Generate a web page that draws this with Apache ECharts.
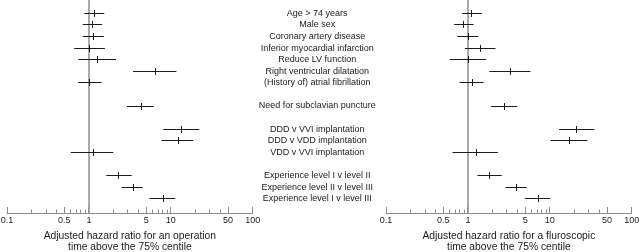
<!DOCTYPE html>
<html>
<head>
<meta charset="utf-8">
<script src="https://cdn.jsdelivr.net/npm/echarts@6/dist/echarts.min.js"></script>
<style>
html,body{margin:0;padding:0;background:#fff;}
#chart{width:640px;height:252px;}
</style>
</head>
<body>
<div id="chart"></div>
<script>
// ---- Data ----
const rowLabels = [
  'Age > 74 years',
  'Male sex',
  'Coronary artery disease',
  'Inferior myocardial infarction',
  'Reduce LV function',
  'Right ventricular dilatation',
  '(History of) atrial fibrillation',
  '',
  'Need for subclavian puncture',
  '',
  'DDD v VVI implantation',
  'DDD v VDD implantation',
  'VDD v VVI implantation',
  '',
  'Experience level I v level II',
  'Experience level II v level III',
  'Experience level I v level III'
];

// Operation time above 75% centile
const opPoint = [1.16, 1.10, 1.14, 1.01, 1.27, 6.5, 1.02, null, 4.33, null, 13.7, 12.3, 1.13, null, 2.33, 3.48, 8.1];
const opLow   = [0.88, 0.84, 0.84, 0.66, 0.74, 3.46, 0.74, null, 2.92, null, 8.1, 7.7, 0.60, null, 1.63, 2.51, 5.46];
const opHigh  = [1.54, 1.45, 1.52, 1.57, 2.14, 11.7, 1.43, null, 6.18, null, 22.3, 18.8, 1.99, null, 3.33, 4.54, 11.35];

// Fluoroscopic time above 75% centile
const fluPoint = [1.12, 0.89, 1.01, 1.42, 1.01, 3.30, 1.13, null, 2.82, null, 21.4, 17.4, 1.28, null, 1.83, 3.91, 7.2];
const fluLow   = [0.85, 0.68, 0.74, 0.92, 0.60, 1.83, 0.79, null, 1.92, null, 13.0, 10.2, 0.65, null, 1.31, 2.87, 4.95];
const fluHigh  = [1.48, 1.17, 1.34, 2.17, 1.67, 5.8, 1.55, null, 4.02, null, 35.0, 28.8, 2.32, null, 2.59, 5.24, 10.1];

const referenceValue = [1];

const majorTicks = [0.1, 0.5, 1, 5, 10, 50, 100];
const majorTickLabels = ['0.1', '0.5', '1', '5', '10', '50', '100'];
const minorTicks = [0.2, 0.3, 0.4, 0.6, 0.7, 0.8, 0.9, 2, 3, 4, 6, 7, 8, 9, 20, 30, 40];

const leftTitle = 'Adjusted hazard ratio for an operation\ntime above the 75% centile';
const rightTitle = 'Adjusted hazard ratio for a fluroscopic\ntime above the 75% centile';

// ---- Build ----
const Y_MIN = -1.15, Y_MAX = 17.26;
const FONT = '"Liberation Sans", Arial, sans-serif';
const AXIS_GRAY = '#8c8c8c';
const INK = '#1a1a1a';

function crisp(v){ return Math.round(v - 0.5) + 0.5; }

function barData(pt, lo, hi){
  const d = [];
  for (let i = 0; i < pt.length; i++) {
    if (pt[i] != null) d.push([i, lo[i], pt[i], hi[i]]);
  }
  return d;
}

function refLineSeries(idx){
  return {
    type: 'custom', xAxisIndex: idx, yAxisIndex: idx, clip: false, silent: true,
    data: referenceValue.map(v => [v]),
    renderItem: function(params, api){
      const top = api.coord([api.value(0), Y_MIN]);
      const bot = api.coord([api.value(0), Y_MAX]);
      const x = Math.round(top[0]);
      return { type: 'line', shape: { x1: x, y1: top[1], x2: x, y2: bot[1] },
        style: { stroke: '#aaaaaa', lineWidth: 2 } };
    },
    z: 1
  };
}

function errorSeries(idx, data){
  return {
    type: 'custom', xAxisIndex: idx, yAxisIndex: idx, clip: false, silent: true,
    data: data,
    renderItem: function(params, api){
      const row = api.value(0);
      const a = api.coord([api.value(1), row]);
      const b = api.coord([api.value(3), row]);
      const c = api.coord([api.value(2), row]);
      const y = crisp(c[1]);
      const cx = crisp(c[0]);
      return { type: 'group', children: [
        { type: 'line', shape: { x1: a[0], y1: y, x2: b[0], y2: y }, style: { stroke: INK, lineWidth: 1 } },
        { type: 'line', shape: { x1: cx, y1: y - 3.5, x2: cx, y2: y + 3.5 }, style: { stroke: INK, lineWidth: 1 } }
      ]};
    },
    z: 3
  };
}

function tickSeries(idx){
  const data = majorTicks.map(v => [v, 1]).concat(minorTicks.map(v => [v, 0]));
  return {
    type: 'custom', xAxisIndex: idx, yAxisIndex: idx, clip: false, silent: true,
    data: data,
    renderItem: function(params, api){
      const v = api.value(0), major = api.value(1) === 1;
      const p = api.coord([v, Y_MAX]);
      const x = crisp(p[0]);
      const y = Math.round(p[1]);
      const h = major ? 6 : 3.5;
      const children = [
        { type: 'line', shape: { x1: x, y1: y, x2: x, y2: y - h }, style: { stroke: AXIS_GRAY, lineWidth: 1 } }
      ];
      if (major) {
        const k = majorTicks.indexOf(v);
        children.push({ type: 'text', x: p[0], y: y + 8, style: {
          text: majorTickLabels[k], fill: INK, font: '9px ' + FONT,
          align: 'center', verticalAlign: 'middle' } });
      }
      return { type: 'group', children: children };
    },
    z: 2
  };
}

const labelData = [];
rowLabels.forEach((t, i) => { if (t) labelData.push([i]); });

const labelSeries = {
  type: 'custom', xAxisIndex: 0, yAxisIndex: 0, clip: false, silent: true,
  data: labelData,
  renderItem: function(params, api){
    const row = api.value(0);
    const edge = api.coord([100, row]);
    return { type: 'text', x: edge[0] + 64.5, y: edge[1], style: {
      text: rowLabels[row], fill: INK, font: '9px ' + FONT,
      align: 'center', verticalAlign: 'middle' } };
  }
};

function xAxisDef(idx, title){
  return {
    type: 'log', logBase: 10, gridIndex: idx, min: 0.1, max: 100, position: 'bottom',
    axisLine: { show: true, onZero: false, lineStyle: { color: AXIS_GRAY, width: 1 } },
    axisTick: { show: false }, axisLabel: { show: false },
    splitLine: { show: false }, minorTick: { show: false }, minorSplitLine: { show: false },
    name: title, nameLocation: 'middle', nameGap: 18,
    nameTextStyle: { color: INK, fontFamily: FONT, fontSize: 10.3, lineHeight: 10.4, verticalAlign: 'top' }
  };
}
function yAxisDef(idx){
  return { type: 'value', gridIndex: idx, min: Y_MIN, max: Y_MAX, inverse: true, show: false };
}

const chart = echarts.init(document.getElementById('chart'), null, { renderer: 'canvas' });
chart.setOption({
  animation: false,
  backgroundColor: '#ffffff',
  textStyle: { fontFamily: FONT },
  grid: [
    { left: 7, width: 245.7, top: 0, bottom: 38.7, containLabel: false, outerBoundsMode: 'none' },
    { left: 386, width: 245.7, top: 0, bottom: 38.7, containLabel: false, outerBoundsMode: 'none' }
  ],
  xAxis: [ xAxisDef(0, leftTitle), xAxisDef(1, rightTitle) ],
  yAxis: [ yAxisDef(0), yAxisDef(1) ],
  series: [
    refLineSeries(0),
    refLineSeries(1),
    errorSeries(0, barData(opPoint, opLow, opHigh)),
    errorSeries(1, barData(fluPoint, fluLow, fluHigh)),
    tickSeries(0),
    tickSeries(1),
    labelSeries
  ]
});
</script>
</body>
</html>
